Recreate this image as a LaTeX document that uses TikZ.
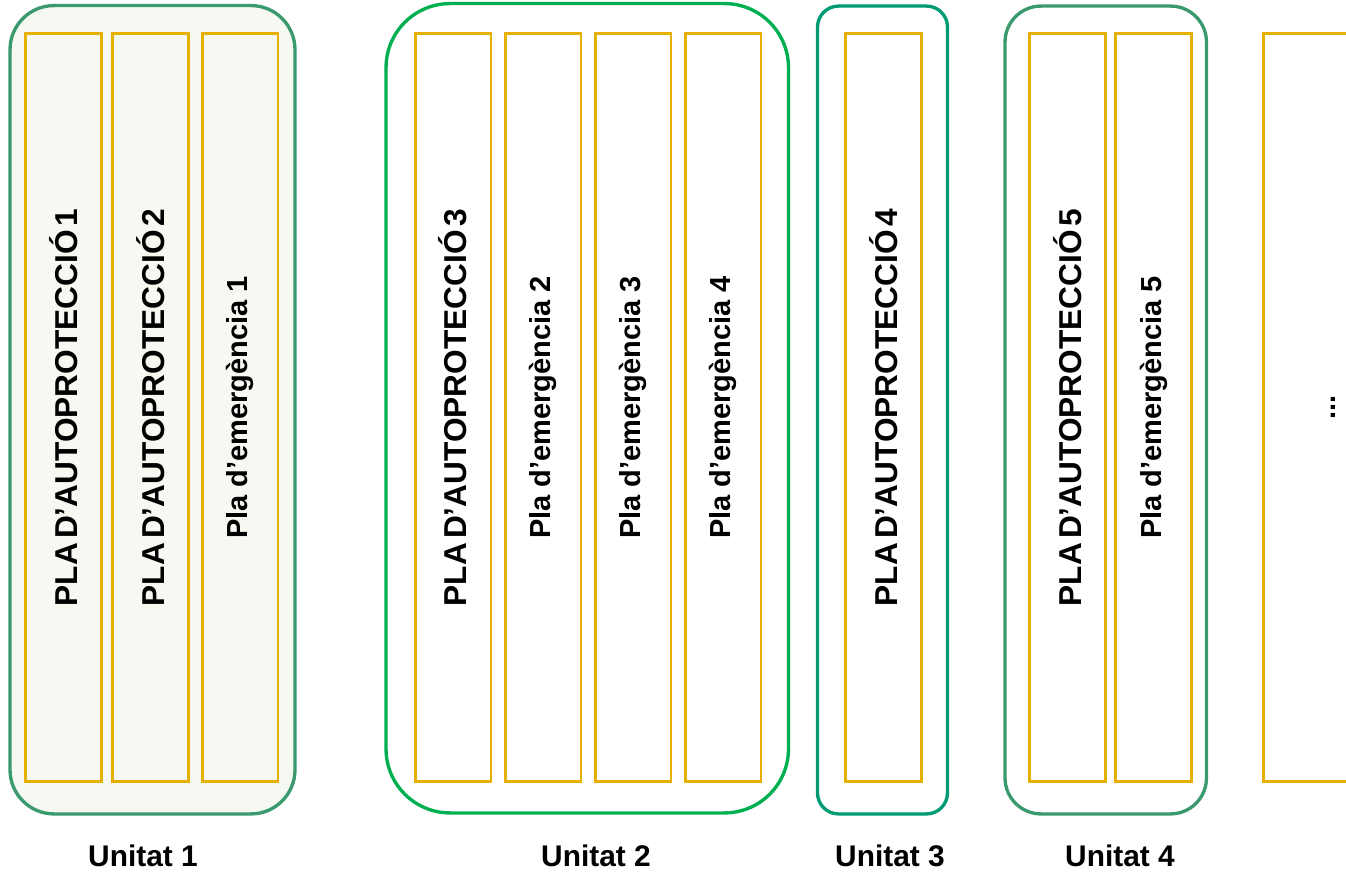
\documentclass[tikz,border=0pt]{standalone}
\usepackage{fontspec}
\setmainfont{Liberation Sans}
\usepackage{xcolor}
\definecolor{unitgreen}{HTML}{3A9A6E}
\definecolor{unitbright}{HTML}{00B050}
\definecolor{unitteal}{HTML}{009A75}
\definecolor{unitfill}{HTML}{F6F9F1}
\definecolor{planyellow}{HTML}{E6B000}
\usepackage{tikz}
\usetikzlibrary{positioning}
\newcommand{\tightspace}{\spaceskip 0.13em\relax}

\begin{document}
\begin{tikzpicture}[x=0.02cm, y=-0.02cm,
  unit/.style={rectangle, draw, line width=1.9pt, inner sep=0pt},
  plan/.style={rectangle, draw=planyellow, line width=1.7pt, rotate=90, inner sep=0pt,
               minimum width=14.96cm, minimum height=1.52cm, text centered,
               font=\fontsize{16.5}{20}\selectfont\bfseries},
  selfplan/.style={plan, font=\fontsize{18}{22}\selectfont\bfseries\tightspace},
  label/.style={font=\fontsize{17}{20}\selectfont\bfseries},
]
\useasboundingbox (0,0) rectangle (1346,875);

% Unit boxes
\node[unit, draw=unitgreen, fill=unitfill, rounded corners=0.88cm,
      minimum width=5.7cm, minimum height=16.17cm] (u1) at (152.5,409.75) {};
\node[unit, draw=unitbright, rounded corners=1.28cm,
      minimum width=8.05cm, minimum height=16.19cm] (u2) at (587.25,408.25) {};
\node[unit, draw=unitteal, rounded corners=0.42cm,
      minimum width=2.6cm, minimum height=16.16cm] (u3) at (882.5,410) {};
\node[unit, draw=unitgreen, rounded corners=0.72cm,
      minimum width=4.03cm, minimum height=16.16cm] (u4) at (1105.75,410) {};

% Plans of unit 1
\node[selfplan] (a1) at (63.5,407.5) {PLA D’AUTOPROTECCIÓ 1};
\node[selfplan] (a2) at (150.5,407.5) {PLA D’AUTOPROTECCIÓ 2};
\node[plan] (e1) at (240,407.5) {Pla d’emergència 1};

% Plans of unit 2
\node[selfplan] (a3) at (453,407.5) {PLA D’AUTOPROTECCIÓ 3};
\node[plan] (e2) at (543,407.5) {Pla d’emergència 2};
\node[plan] (e3) at (633,407.5) {Pla d’emergència 3};
\node[plan] (e4) at (723,407.5) {Pla d’emergència 4};

% Plans of unit 3 and 4
\node[selfplan] (a4) at (883.5,407.5) {PLA D’AUTOPROTECCIÓ 4};
\node[selfplan] (a5) at (1067.25,407.5) {PLA D’AUTOPROTECCIÓ 5};
\node[plan] (e5) at (1153.5,407.5) {Pla d’emergència 5};

% Further plans (cut at the edge)
\node[plan, minimum height=2.78cm] (more) at (1333,407.5) {...};

% Unit names
\node[label] (n1) at (143,856) {Unitat 1};
\node[label] (n2) at (596,856) {Unitat 2};
\node[label] (n3) at (890,856) {Unitat 3};
\node[label] (n4) at (1120,856) {Unitat 4};

\end{tikzpicture}
\end{document}
